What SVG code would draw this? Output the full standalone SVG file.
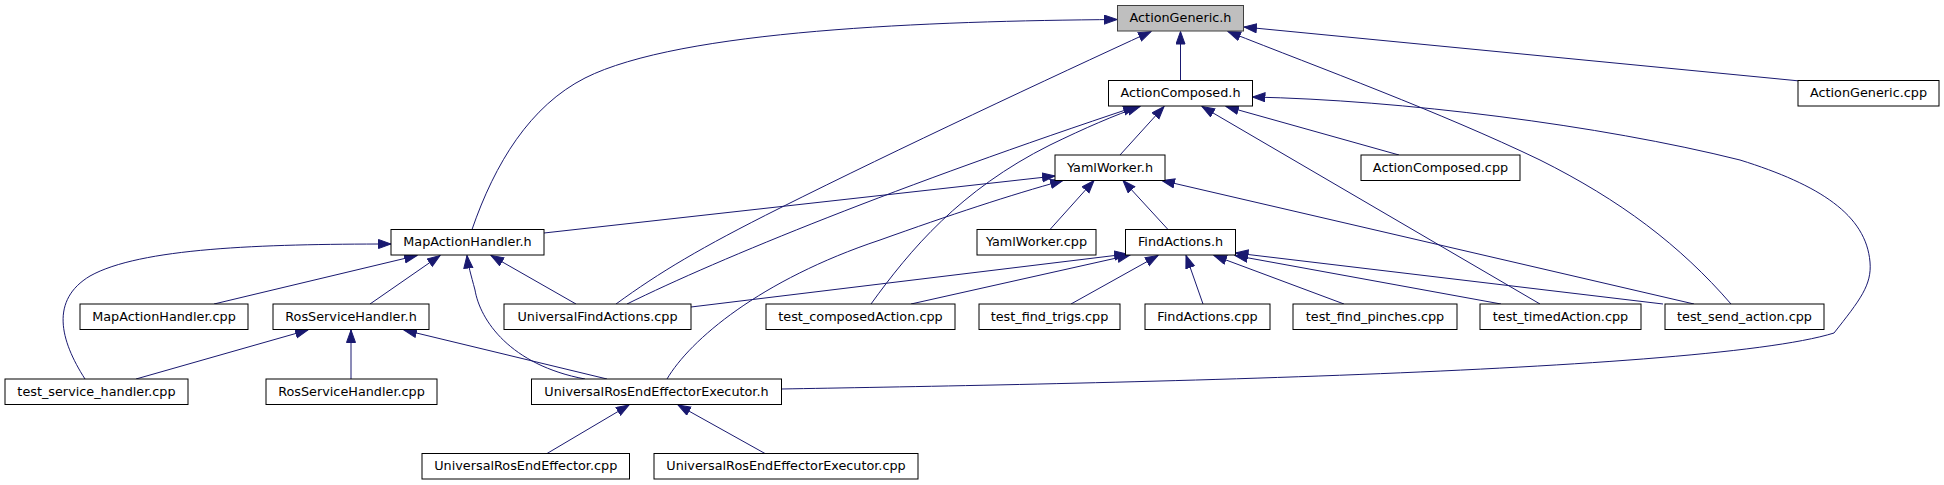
<svg xmlns="http://www.w3.org/2000/svg" width="1944" height="485" viewBox="0 0 1944 485">
<style>
.n rect{fill:#ffffff;stroke:#000000;stroke-width:1}
.n text{font-family:"DejaVu Sans","Liberation Sans",sans-serif;font-size:12.8px;text-anchor:middle;fill:#000000}
#root rect{fill:#bfbfbf;stroke:#404040}
.e path{fill:none;stroke:#191970;stroke-width:1;marker-end:url(#ah)}
</style>
<defs>
<marker id="ah" markerUnits="userSpaceOnUse" markerWidth="14" markerHeight="11" refX="13" refY="5" orient="auto">
<path d="M0.5,0.5 L13,5 L0.5,9.5 z" fill="#191970" stroke="#191970" stroke-width="1"/>
</marker>
</defs>
<rect width="1944" height="485" fill="#ffffff"/>
<g id="connectors" class="e">
<path d="M1180.5,80.5 L1180.5,31.5"/>
<path d="M472,229.5 C495,163 530,106 585,78 C680,30 930,21 1117,19.5"/>
<path d="M616,304 C660,272 700,248 780,208 C900,148 1050,78 1151,31.5"/>
<path d="M1800,81 L1244,27"/>
<path d="M1731,304 C1680,245 1620,200 1540,160 C1440,112 1320,68 1228,31.5"/>
<path d="M1120,155 L1164,106.5"/>
<path d="M1399,155 L1226,106.5"/>
<path d="M1540,304 L1202,106.5"/>
<path d="M781.5,389 C1000,385 1700,375 1834,333 C1860,300 1872,285 1870,262 C1866,215 1820,185 1740,160 C1600,125 1400,100 1252.5,97"/>
<path d="M627,304 C720,258 900,185 1136,106.5"/>
<path d="M871,304 C910,250 960,190 1050,145 C1085,128 1115,115 1140,106.5"/>
<path d="M544,233 L1055,176"/>
<path d="M667,379 C690,340 760,280 880,240 C950,215 1010,195 1063,180.5"/>
<path d="M1050,229.5 L1094,180.5"/>
<path d="M1168,229.5 L1123,180.5"/>
<path d="M1694,304 L1162,180.5"/>
<path d="M691,307 L1127,254"/>
<path d="M911,304 L1130,255"/>
<path d="M1071,304 L1158,255.5"/>
<path d="M1203,304 L1186,255.5"/>
<path d="M1344,304 L1214,255.5"/>
<path d="M1501,304 L1235,255.5"/>
<path d="M1663,304 L1235.5,253"/>
<path d="M85,379 C60,340 50,300 90,276 C140,248 260,244 391,244"/>
<path d="M214,304 L417,255.5"/>
<path d="M370,304 L440,255.5"/>
<path d="M585,379 C510,365 480,320 475,290 C471,275 468,265 467,255.5"/>
<path d="M576,304 L491,255.5"/>
<path d="M136,379 L308,330"/>
<path d="M351,379 L351,330"/>
<path d="M607,379 L404,330"/>
<path d="M547,453.5 L629,405"/>
<path d="M765,453.5 L678,405"/>
</g>
<g id="root" class="n"><rect x="1117.5" y="5.5" width="126" height="25.5"/><text x="1180.5" y="22">ActionGeneric.h</text></g>
<g id="n_actioncomposed_h" class="n"><rect x="1108.5" y="80.5" width="144" height="25.5"/><text x="1180.5" y="97">ActionComposed.h</text></g>
<g id="n_actiongeneric_cpp" class="n"><rect x="1798" y="80.5" width="141" height="25.5"/><text x="1868.5" y="97">ActionGeneric.cpp</text></g>
<g id="n_yamlworker_h" class="n"><rect x="1055" y="155" width="110" height="25.5"/><text x="1110" y="171.5">YamlWorker.h</text></g>
<g id="n_actioncomposed_cpp" class="n"><rect x="1361" y="155" width="159" height="25.5"/><text x="1440.5" y="171.5">ActionComposed.cpp</text></g>
<g id="n_mapactionhandler_h" class="n"><rect x="391" y="229.5" width="153" height="25.5"/><text x="467.5" y="246">MapActionHandler.h</text></g>
<g id="n_yamlworker_cpp" class="n"><rect x="977" y="229.5" width="119" height="25.5"/><text x="1036.5" y="246">YamlWorker.cpp</text></g>
<g id="n_findactions_h" class="n"><rect x="1125.5" y="229.5" width="110" height="25.5"/><text x="1180.5" y="246">FindActions.h</text></g>
<g id="n_mapactionhandler_cpp" class="n"><rect x="80" y="304" width="168" height="25.5"/><text x="164" y="320.5">MapActionHandler.cpp</text></g>
<g id="n_rosservicehandler_h" class="n"><rect x="273" y="304" width="156" height="25.5"/><text x="351" y="320.5">RosServiceHandler.h</text></g>
<g id="n_universalfindactions_cpp" class="n"><rect x="504" y="304" width="187" height="25.5"/><text x="597.5" y="320.5">UniversalFindActions.cpp</text></g>
<g id="n_test_composedaction_cpp" class="n"><rect x="766" y="304" width="189" height="25.5"/><text x="860.5" y="320.5">test_composedAction.cpp</text></g>
<g id="n_test_find_trigs_cpp" class="n"><rect x="979" y="304" width="141" height="25.5"/><text x="1049.5" y="320.5">test_find_trigs.cpp</text></g>
<g id="n_findactions_cpp" class="n"><rect x="1145" y="304" width="125" height="25.5"/><text x="1207.5" y="320.5">FindActions.cpp</text></g>
<g id="n_test_find_pinches_cpp" class="n"><rect x="1293" y="304" width="164" height="25.5"/><text x="1375" y="320.5">test_find_pinches.cpp</text></g>
<g id="n_test_timedaction_cpp" class="n"><rect x="1480" y="304" width="161" height="25.5"/><text x="1560.5" y="320.5">test_timedAction.cpp</text></g>
<g id="n_test_send_action_cpp" class="n"><rect x="1665" y="304" width="159" height="25.5"/><text x="1744.5" y="320.5">test_send_action.cpp</text></g>
<g id="n_test_service_handler_cpp" class="n"><rect x="5" y="379" width="183" height="25.5"/><text x="96.5" y="395.5">test_service_handler.cpp</text></g>
<g id="n_rosservicehandler_cpp" class="n"><rect x="266" y="379" width="171" height="25.5"/><text x="351.5" y="395.5">RosServiceHandler.cpp</text></g>
<g id="n_uree_h" class="n"><rect x="531.5" y="379" width="250" height="25.5"/><text x="656.5" y="395.5">UniversalRosEndEffectorExecutor.h</text></g>
<g id="n_ure_cpp" class="n"><rect x="422" y="453.5" width="207.5" height="25.5"/><text x="525.75" y="470">UniversalRosEndEffector.cpp</text></g>
<g id="n_uree_cpp" class="n"><rect x="654" y="453.5" width="264" height="25.5"/><text x="786" y="470">UniversalRosEndEffectorExecutor.cpp</text></g>
</svg>
